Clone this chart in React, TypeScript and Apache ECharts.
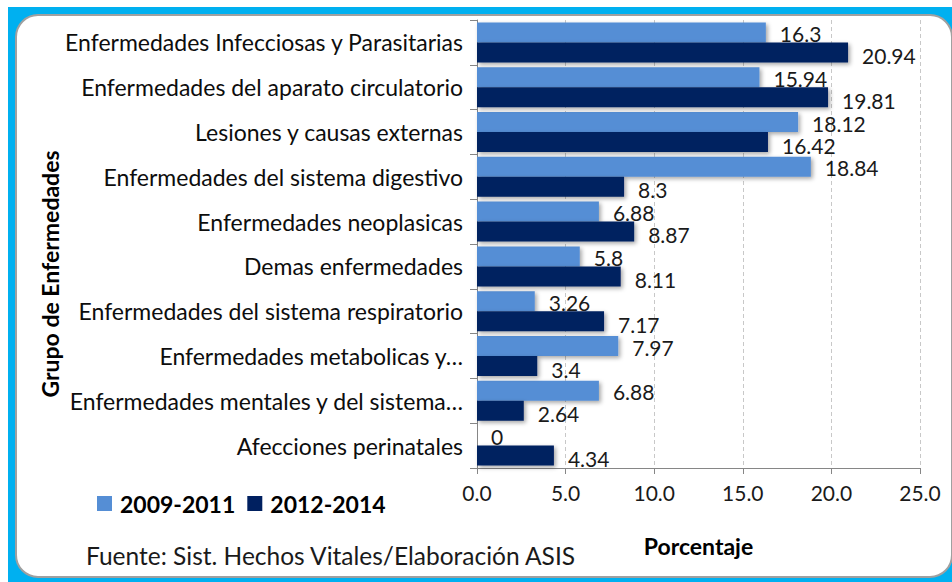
import React, { useEffect, useRef } from "react";
import * as echarts from "echarts";

const categories = [
  "Enfermedades Infecciosas y Parasitarias",
  "Enfermedades del aparato circulatorio",
  "Lesiones y causas externas",
  "Enfermedades del sistema digestivo",
  "Enfermedades neoplasicas",
  "Demas enfermedades",
  "Enfermedades del sistema respiratorio",
  "Enfermedades metabolicas y…",
  "Enfermedades mentales y del sistema…",
  "Afecciones perinatales",
];
const series2009 = [16.3, 15.94, 18.12, 18.84, 6.88, 5.8, 3.26, 7.97, 6.88, 0];
const series2012 = [20.94, 19.81, 16.42, 8.3, 8.87, 8.11, 7.17, 3.4, 2.64, 4.34];
const seriesNames = ["2009-2011", "2012-2014"];
const xMin = 0;
const xMax = 25;
const xInterval = 5;

const FONT = "Lato, 'Open Sans', sans-serif";
const LIGHT = "#558ED5";
const DARK = "#002060";

export default function App() {
  const ref = useRef<HTMLDivElement>(null);
  useEffect(() => {
    const chart = echarts.init(ref.current!, null, { renderer: "svg" });
    const labelBase = {
      show: true,
      position: "right",
      distance: 14,
      fontFamily: FONT,
      fontSize: 21,
      lineHeight: 19,
      color: "#1a1a1a",
      formatter: "{c}",
    };
    const shadow = {
      shadowColor: "rgba(0,0,0,0.35)",
      shadowBlur: 4,
      shadowOffsetX: 2,
      shadowOffsetY: 2,
    };
    chart.setOption({
      animation: false,
      backgroundColor: "#ffffff",
      textStyle: { fontFamily: FONT },
      graphic: [
        {
          type: "rect",
          z: -100,
          shape: { x: 8, y: 7, width: 960, height: 600 },
          style: { fill: "#00B0F0" },
        },
        {
          type: "rect",
          z: -99,
          shape: { x: 16, y: 15, width: 936, height: 562, r: 22 },
          style: {
            fill: "#ffffff",
            stroke: "#A0A0A0",
            lineWidth: 2,
          },
        },
        {
          type: "text",
          x: 50,
          y: 274,
          rotation: Math.PI / 2,
          style: {
            text: "Grupo de Enfermedades",
            fontFamily: FONT,
            fontSize: 23,
            fontWeight: "bold",
            fill: "#000",
            align: "center",
            verticalAlign: "middle",
          },
        },
        {
          type: "text",
          x: 86,
          y: 555,
          style: {
            text: "Fuente: Sist. Hechos Vitales/Elaboración ASIS",
            fontFamily: FONT,
            fontSize: 24.5,
            fill: "#1a1a1a",
            align: "left",
            verticalAlign: "middle",
          },
        },
      ],
      legend: {
        data: seriesNames,
        left: 97,
        top: 492,
        padding: 0,
        icon: "rect",
        itemWidth: 15,
        itemHeight: 15,
        itemGap: 12,
        textStyle: {
          fontFamily: FONT,
          fontSize: 23,
          fontWeight: "bold",
          color: "#000",
          padding: [0, 0, 0, 3],
        },
      },
      grid: { left: 477, right: 32, top: 20, bottom: 114, containLabel: false },
      xAxis: {
        type: "value",
        min: xMin,
        max: xMax,
        interval: xInterval,
        name: "Porcentaje",
        nameLocation: "middle",
        nameGap: 66,
        nameTextStyle: { fontFamily: FONT, fontSize: 23, fontWeight: "bold", color: "#000" },
        axisLine: { show: true, lineStyle: { color: "#868686", width: 1 } },
        axisTick: { show: true, length: 6, lineStyle: { color: "#868686" } },
        axisLabel: {
          margin: 14,
          fontFamily: FONT,
          fontSize: 21,
          color: "#1a1a1a",
          formatter: (v: number) => v.toFixed(1),
        },
        splitLine: { show: true, lineStyle: { color: "#C8C8C8", type: [4, 3] } },
      },
      yAxis: {
        type: "category",
        data: categories,
        inverse: true,
        axisLine: { show: true, lineStyle: { color: "#868686", width: 1 } },
        axisTick: { show: true, length: 7, lineStyle: { color: "#868686" } },
        axisLabel: {
          margin: 14,
          fontFamily: FONT,
          fontSize: 23,
          color: "#0d0d0d",
        },
      },
      series: [
        {
          name: seriesNames[0],
          type: "bar",
          data: series2009,
          barWidth: 20,
          barGap: "0%",
          itemStyle: { color: LIGHT, ...shadow },
          label: { ...labelBase, offset: [0, 1] },
        },
        {
          name: seriesNames[1],
          type: "bar",
          data: series2012,
          barWidth: 20,
          barGap: "0%",
          itemStyle: { color: DARK, ...shadow },
          label: { ...labelBase, offset: [0, 3] },
        },
      ],
    });
    return () => chart.dispose();
  }, []);
  return (
    <div
      ref={ref}
      style={{ position: "fixed", left: 0, top: 0, width: 952, height: 582, background: "#fff" }}
    />
  );
}
